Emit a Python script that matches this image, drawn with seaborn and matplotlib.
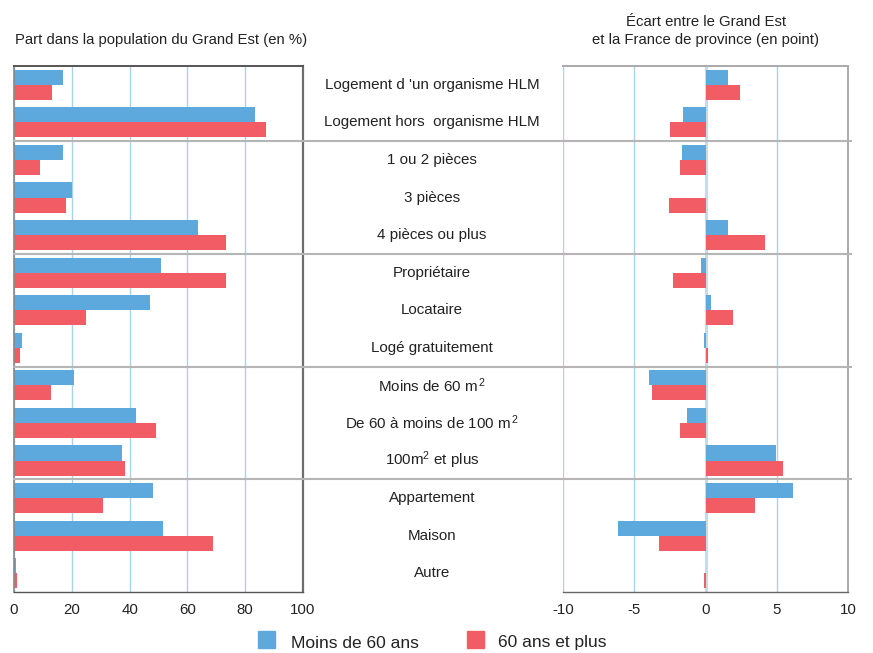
import matplotlib
matplotlib.use('Agg')
import matplotlib.pyplot as plt
import matplotlib.transforms as mtransforms
from matplotlib.patches import Rectangle
import seaborn as sns
import pandas as pd

categories = ["Logement d 'un organisme HLM", "Logement hors  organisme HLM",
              "1 ou 2 pièces", "3 pièces", "4 pièces ou plus",
              "Propriétaire", "Locataire", "Logé gratuitement",
              "Moins de 60 m$^{\\,2}$", "De 60 à moins de 100 m$^{\\,2}$", "100m$^{2}$ et plus",
              "Appartement", "Maison", "Autre"]
series = ["Moins de 60 ans", "60 ans et plus"]

part_moins60 = [16.9, 83.4, 16.9, 20.0, 63.6, 50.8, 47.0, 2.7, 20.7, 42.2, 37.3, 48.1, 51.5, 0.6]
part_60plus = [13.0, 87.2, 8.9, 17.9, 73.3, 73.3, 24.8, 2.0, 12.7, 49.1, 38.4, 30.7, 68.8, 0.9]

ecart_moins60 = [1.56, -1.56, -1.63, 0.0, 1.56, -0.35, 0.42, -0.14, -3.96, -1.27, 4.95, 6.16, -6.16, 0.0]
ecart_60plus = [2.4, -2.48, -1.77, -2.55, 4.18, -2.26, 1.91, 0.21, -3.75, -1.77, 5.45, 3.47, -3.26, -0.14]

group_breaks = [2, 5, 8, 11]  # separator after these many rows

colors = ["#5DA9DD", "#F25C64"]

df = pd.DataFrame({
    'cat': categories * 2,
    'serie': [series[0]] * len(categories) + [series[1]] * len(categories),
    'part': part_moins60 + part_60plus,
    'ecart': ecart_moins60 + ecart_60plus,
})

plt.rcParams['font.family'] = ['Liberation Sans', 'DejaVu Sans']
plt.rcParams['mathtext.fontset'] = 'custom'
plt.rcParams['mathtext.rm'] = 'Liberation Sans'
plt.rcParams['mathtext.it'] = 'Liberation Sans'

W, H = 873, 653
fig = plt.figure(figsize=(W / 100, H / 100), dpi=100)
top, bottom = 66, 592
ax1 = fig.add_axes([14 / W, (H - bottom) / H, (303 - 14) / W, (bottom - top) / H])
ax2 = fig.add_axes([563 / W, (H - bottom) / H, (848 - 563) / W, (bottom - top) / H])

for ax, col, lim, ticks in [(ax1, 'part', (0, 100), [0, 20, 40, 60, 80, 100]),
                            (ax2, 'ecart', (-10, 10), [-10, -5, 0, 5, 10])]:
    sns.barplot(data=df, y='cat', x=col, hue='serie', order=categories,
                hue_order=series, palette=colors, orient='h', width=0.8,
                saturation=1, ax=ax, legend=False)
    ax.set_xlim(*lim)
    ax.set_ylim(len(categories) - 0.5, -0.5)
    ax.set_xticks(ticks)
    ax.set_xticklabels([str(t) for t in ticks], fontsize=10.8, color='#222222')
    ax.tick_params(axis='x', length=0, pad=8)
    ax.set_yticks([])
    ax.set_xlabel('')
    ax.set_ylabel('')
    for t in ticks:
        ax.axvline(t, color='#A9D3EC', lw=1.0, zorder=0)

ax2.axvline(0, color='#C5DCE8', lw=2.2, zorder=0)

# spines
for s in ax1.spines.values():
    s.set_color('#555555')
ax1.spines['left'].set_color('#888888')
ax1.spines['left'].set_linewidth(1.2)
ax1.spines['right'].set_linewidth(1.6)
ax1.spines['right'].set_color('#6E6E6E')
ax1.spines['top'].set_linewidth(1.4)
ax1.spines['bottom'].set_linewidth(1.0)
for s in ax2.spines.values():
    s.set_color('#AAAAAA')
    s.set_linewidth(1.4)
ax2.spines['left'].set_visible(False)
ax2.spines['bottom'].set_color('#666666')
ax2.spines['bottom'].set_linewidth(1.0)

# separators across the whole figure
trans = mtransforms.blended_transform_factory(fig.transFigure, ax1.transData)
for b in group_breaks:
    fig.add_artist(plt.Line2D([14 / W, 851 / W], [b - 0.5, b - 0.5], transform=trans,
                              color='#B5B5B5', lw=1.5))

# middle labels
for i, c in enumerate(categories):
    fig.text(432 / W, i, c, transform=trans, ha='center', va='center',
             fontsize=10.9, color='#222222')

# titles
fig.text(161 / W, 1 - 40 / H, "Part dans la population du Grand Est (en %)",
         ha='center', va='center', fontsize=10.7, color='#222222')
fig.text(706 / W, 1 - 31 / H, "Écart entre le Grand Est\net la France de province (en point)",
         ha='center', va='center', fontsize=10.7, color='#222222', linespacing=1.3)

# legend
fig.add_artist(Rectangle((258 / W, 1 - 648 / H), 17 / W, 17 / H, color=colors[0],
                         transform=fig.transFigure))
fig.text(291 / W, 1 - 643 / H, series[0], ha='left', va='center', fontsize=12.5, color='#222222')
fig.add_artist(Rectangle((467 / W, 1 - 648 / H), 17 / W, 17 / H, color=colors[1],
                         transform=fig.transFigure))
fig.text(498 / W, 1 - 643 / H, series[1], ha='left', va='center', fontsize=12.5, color='#222222')

fig.savefig('out.png', dpi=100)
